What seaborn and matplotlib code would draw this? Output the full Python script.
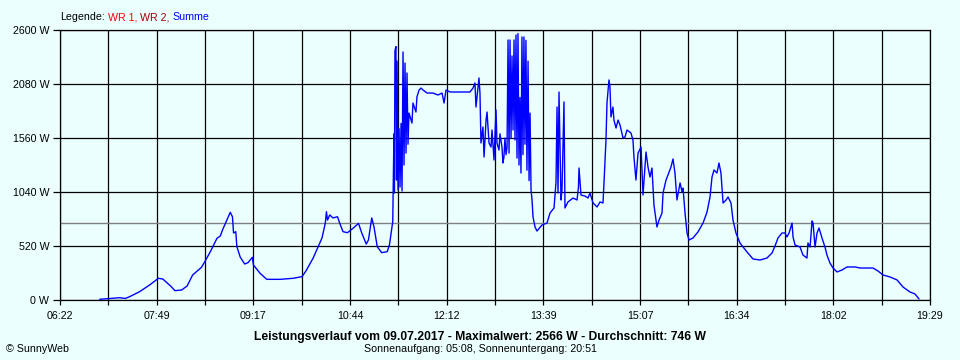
import matplotlib
matplotlib.use("Agg")
import matplotlib.pyplot as plt
import seaborn as sns
import numpy as np
import pandas as pd

# ---------------- data (time in minutes after midnight, power in W) ----------------
morning_t = [418, 436, 441, 445, 454, 463, 471, 475, 482, 486,
             492, 497, 502, 510, 513, 518, 524, 527, 529, 533,
             536, 538, 539, 541, 542, 545, 549, 552, 556, 557,
             563, 569, 581, 593, 601, 605, 611, 615, 619, 622,
             623, 624, 626, 629, 633, 635, 638, 642, 647, 652,
             655, 659, 661, 664, 666, 669, 673, 678, 680, 683]
morning_w = [7, 22, 15, 32, 80, 144, 209, 202, 135, 90,
             96, 135, 241, 315, 369, 465, 594, 616, 674, 770,
             844, 802, 645, 658, 513, 414, 347, 359, 411, 337,
             257, 199, 199, 209, 225, 289, 404, 501, 597, 741,
             850, 770, 819, 790, 802, 741, 658, 648, 690, 738,
             645, 539, 578, 790, 706, 513, 456, 465, 530, 754]

midday_t = [684.1, 684.5, 685.0, 685.9, 686.4, 686.9, 687.8, 688.7, 689.6, 690.5,
            691.4, 692.3, 693.2, 694.1, 695.0, 695.9, 696.8, 697.7, 700.4, 701.3,
            704.0, 704.9, 706.8, 708.6, 710.4, 714.0, 719.4, 723.9, 727.6, 729.4,
            731.2, 734.8, 741.1, 746.6, 752.9, 755.6, 757.4, 758.3, 760.1, 761.0,
            761.9, 762.8, 764.6, 765.6, 767.4, 768.3, 770.1, 771.9, 772.8, 774.6,
            776.4, 777.3, 779.1, 780.0, 781.8, 782.7, 783.6, 784.5, 785.5, 786.4,
            787.3, 788.2, 789.1, 790.0, 790.9, 791.8, 792.7, 793.6, 794.5, 795.4,
            796.3, 797.2, 798.1, 799.0, 799.9, 800.8, 801.7, 802.6, 803.5, 804.4,
            805.4, 806.3, 807.2, 808.1, 809.0]
midday_w = [1600, 1030, 2400, 2440, 1155, 2300, 1059, 1650, 1088, 1700,
            1050, 2388, 1300, 2282, 1415, 2186, 1500, 1800, 1704, 1897,
            1810, 1955, 2022, 2041, 2022, 1993, 1993, 1974, 1993, 1897,
            2022, 2003, 2003, 2003, 2003, 2041, 2090, 1858, 2051, 2138,
            1993, 1512, 1666, 1377, 1733, 1810, 1512, 1473, 1637, 1348,
            1830, 1512, 1444, 1600, 1473, 1320, 1377, 1560, 1400, 1473,
            2504, 1415, 2504, 1560, 2350, 1637, 2504, 1541, 2552, 1367,
            2566, 1300, 1950, 1223, 2533, 1400, 2533, 1500, 2500, 1250,
            2300, 1150, 1800, 1060, 963]

afternoon_t = [809.9, 811.7, 813.5, 818.0, 822.5, 825.3, 828.9, 830.7, 831.6, 832.5,
               833.4, 835.2, 836.1, 837.9, 838.8, 841.5, 846.1, 849.7, 851.0, 851.5,
               853.3, 856.9, 859.6, 861.4, 864.2, 867.8, 870.5, 873.2, 874.1, 875.9,
               876.8, 878.6, 879.5, 880.4, 882.2, 883.1, 885.0, 886.8, 888.6, 891.3,
               893.1, 894.9, 898.5, 900.3, 901.2, 903.0, 904.9, 907.6, 908.5, 909.4,
               912.1, 913.9, 915.7, 917.5, 919.3, 922.0, 923.9, 926.6, 927.5, 930.2,
               932.0, 934.7, 936.5, 938.3, 940.1, 942.9, 944.7, 945.6, 947.4, 949.2,
               951.0, 954.6, 959.1, 963.7, 967.3, 970.0, 971.8, 973.6, 976.3, 978.1,
               979.9, 981.8, 984.5, 986.3, 989.0, 990.8, 993.5, 997.1]
afternoon_w = [800, 703, 664, 722, 741, 838, 886, 1136, 1858, 1030,
               2003, 963, 1059, 1907, 886, 944, 982, 963, 1088, 1271,
               1011, 1001, 982, 1030, 934, 896, 944, 934, 1127, 1541,
               1897, 2119, 2051, 1762, 1858, 1733, 1656, 1733, 1685, 1560,
               1570, 1637, 1608, 1541, 1377, 1155, 1415, 1473, 1252, 1011,
               1425, 1281, 1184, 1271, 915, 703, 770, 838, 1030, 1155,
               1204, 1281, 1358, 1223, 963, 1127, 1040, 1078, 838, 645,
               578, 597, 655, 741, 847, 992, 1184, 1252, 1223, 1319,
               1223, 934, 963, 992, 934, 770, 645, 549]

evening_t = [1003.5, 1008.9, 1015.2, 1021.5, 1026.1, 1028.8, 1031.5, 1035.1, 1037.8, 1039.6,
             1041.5, 1044.2, 1045.1, 1046.9, 1051.4, 1054.1, 1057.7, 1058.6, 1060.5, 1062.3,
             1063.2, 1065.0, 1066.8, 1068.6, 1071.3, 1074.0, 1075.8, 1078.5, 1081.3, 1084.9,
             1089.4, 1093.9, 1101.2, 1105.7, 1110.2, 1117.4, 1122.0, 1126.5, 1132.8, 1139.2,
             1144.6, 1150.9, 1155.4, 1159.1]
evening_w = [462, 395, 385, 404, 453, 520, 597, 645, 645, 607,
             645, 741, 607, 530, 510, 433, 404, 549, 510, 761,
             741, 510, 645, 693, 597, 510, 433, 356, 308, 270,
             289, 318, 318, 308, 308, 308, 279, 241, 222, 193,
             125, 77, 58, 10]

average_w = 746
y_tick_values = [0, 520, 1040, 1560, 2080, 2600]
x_tick_labels = ["06:22", "07:49", "09:17", "10:44", "12:12",
                 "13:39", "15:07", "16:34", "18:02", "19:29"]
title_text = "Leistungsverlauf vom 09.07.2017 - Maximalwert: 2566 W - Durchschnitt: 746 W"
sun_text = "Sonnenaufgang: 05:08, Sonnenuntergang: 20:51"
copyright_text = "\u00a9 SunnyWeb"
legend_parts = ["Legende:", "WR 1,", "WR 2,", "Summe"]
legend_colors = ["#000000", "#FF0000", "#A00000", "#0000FF"]

# ---------------- styling ----------------
BG = "#EBFFFF"
sns.set_style("white")
plt.rcParams["font.family"] = ["Liberation Sans", "DejaVu Sans"]
FS = 7.7

def to_min(s):
    h, m = s.split(":")
    return int(h) * 60 + int(m)

df = pd.DataFrame({
    "t": morning_t + midday_t + afternoon_t + evening_t,
    "w": morning_w + midday_w + afternoon_w + evening_w,
})

W, H = 960, 360
fig = plt.figure(figsize=(W / 100, H / 100), dpi=100, facecolor=BG)
ax = fig.add_axes([60 / W, 60 / H, 870 / W, 270 / H])
ax.set_facecolor(BG)

t0, t1 = to_min(x_tick_labels[0]), to_min(x_tick_labels[-1])
xt = np.linspace(t0, t1, 2 * len(x_tick_labels) - 1)
ax.set_xlim(t0, t1)
ax.set_ylim(y_tick_values[0], y_tick_values[-1])
ax.set_xticks(xt)
ax.set_xticklabels([x_tick_labels[i // 2] if i % 2 == 0 else "" for i in range(len(xt))])
ax.set_yticks(y_tick_values)
ax.set_yticklabels([f"{v} W" for v in y_tick_values])

ax.grid(True, color="black", linewidth=0.9, zorder=0)
ax.set_axisbelow(True)
ax.axhline(average_w, color="#808080", linewidth=1.0, zorder=1)

sns.lineplot(data=df, x="t", y="w", ax=ax, color="#0000FF", linewidth=1.0,
             estimator=None, sort=False, zorder=3)
ax.set_xlabel("")
ax.set_ylabel("")

for s in ax.spines.values():
    s.set_visible(True)
    s.set_color("black")
    s.set_linewidth(0.9)

ax.tick_params(axis="y", length=4.8, width=0.9, color="black", pad=2.9,
               labelsize=FS, labelcolor="black", left=True)
ax.tick_params(axis="x", length=3.6, width=0.9, color="black", pad=4.5,
               labelsize=FS, labelcolor="black", bottom=True)

fig.text(0.5, 1 - 337 / H, title_text, ha="center", va="center",
         fontsize=8.7, fontweight="bold", color="black")
fig.text(0.5, 1 - 349 / H, sun_text, ha="center", va="center",
         fontsize=FS, color="black")
fig.text(6 / W, 1 - 349 / H, copyright_text, ha="left", va="center",
         fontsize=FS, color="black")

# legend made of coloured text pieces
renderer = fig.canvas.get_renderer()
probe1 = fig.text(0, 0, "aa", fontsize=FS)
probe2 = fig.text(0, 0, "a a", fontsize=FS)
space_px = probe2.get_window_extent(renderer).width - probe1.get_window_extent(renderer).width
probe1.remove()
probe2.remove()
x_px = 60
for part, col in zip(legend_parts, legend_colors):
    t = fig.text(x_px / W, 1 - 17 / H, part, ha="left", va="center",
                 fontsize=FS, color=col)
    x_px = t.get_window_extent(renderer).x1 + space_px

fig.savefig("out.png", dpi=100, facecolor=BG)
